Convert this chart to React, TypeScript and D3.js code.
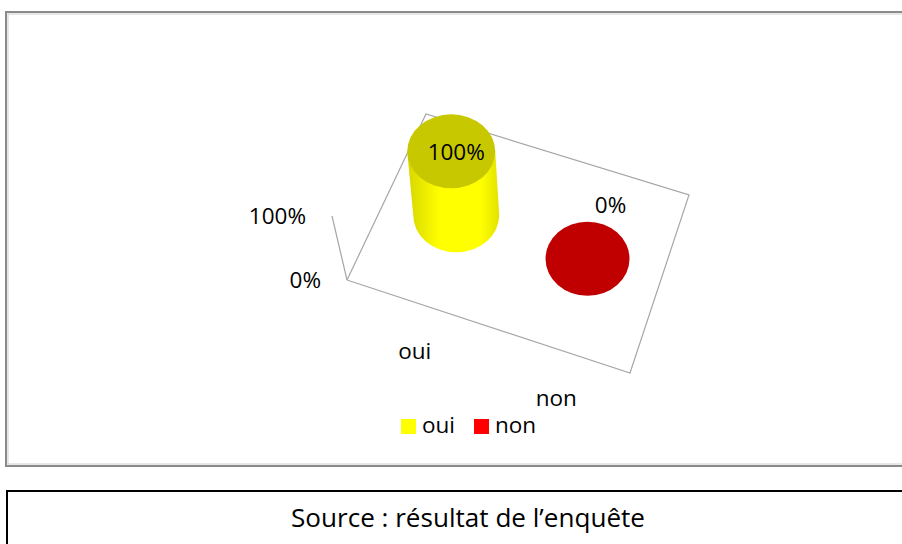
import React from "react";
import * as d3 from "d3";

const categories = ["oui", "non"];
const values = [100, 0];
const sideColors = ["#ffff00", "#ff0000"];
const topColors = ["#c8c800", "#c00000"];
const yTicks = [0, 100];
const sourceText = "Source : résultat de l’enquête";

const W = 902;
const H = 544;
const FONT = "'Open Sans', 'Noto Sans', sans-serif";
const LABEL_SIZE = 22.5;

// floor corners (perspective projection of the 3D plot floor)
const FL: [number, number] = [347, 280];
const FR: [number, number] = [630, 373];
const BL: [number, number] = [426, 114];
const BR: [number, number] = [689, 195];

function floorPoint(u: number, v: number): [number, number] {
  const x = (1 - u) * (1 - v) * FL[0] + u * (1 - v) * FR[0] + (1 - u) * v * BL[0] + u * v * BR[0];
  const y = (1 - u) * (1 - v) * FL[1] + u * (1 - v) * FR[1] + (1 - u) * v * BL[1] + u * v * BR[1];
  return [x, y];
}

export default function App() {
  const xBand = d3.scaleBand<string>().domain(categories).range([0, 1]).padding(0);
  const yScale = d3.scaleLinear().domain([0, 100]).range([0, 64]);
  const depth = 0.52;
  const rx = 43;
  const ry = 37;

  const wallTopOffset = -15;
  const floorPath = d3.line()([FL, BL, BR, FR, FL]);

  return (
    <svg
      width={W}
      height={H}
      style={{ position: "absolute", left: 0, top: 0, background: "#fff" }}
      fontFamily={FONT}
    >
      <defs>
        <linearGradient id="cylGrad0" x1="0" x2="1" y1="0" y2="0">
          <stop offset="0%" stopColor="#d6d600" />
          <stop offset="35%" stopColor="#ffff00" />
          <stop offset="80%" stopColor="#ffff00" />
          <stop offset="100%" stopColor="#e2e200" />
        </linearGradient>
        <linearGradient id="cylGrad1" x1="0" x2="1" y1="0" y2="0">
          <stop offset="0%" stopColor="#d60000" />
          <stop offset="35%" stopColor="#ff0000" />
          <stop offset="80%" stopColor="#ff0000" />
          <stop offset="100%" stopColor="#e20000" />
        </linearGradient>
      </defs>

      {/* chart border */}
      <rect x={6} y={12} width={W + 10} height={454} fill="none" stroke="#8a8a8a" strokeWidth={2} />
      <rect x={8} y={14} width={W + 10} height={450} fill="none" stroke="#d0d0d0" strokeWidth={1} />

      {/* floor */}
      <path d={floorPath || ""} fill="none" stroke="#a6a6a6" strokeWidth={1.2} />

      {/* wall edge / value axis */}
      <line
        x1={FL[0]}
        y1={FL[1]}
        x2={FL[0] + wallTopOffset}
        y2={FL[1] - yScale(100)}
        stroke="#a6a6a6"
        strokeWidth={1.2}
      />
      {yTicks.map((t) => {
        const frac = t / 100;
        const x = FL[0] + wallTopOffset * frac - 26;
        const y = FL[1] - yScale(t) + 2;
        return (
          <text key={t} x={x} y={y} textAnchor="end" dominantBaseline="middle" fontSize={LABEL_SIZE} fill="#000">
            {t + "%"}
          </text>
        );
      })}

      {/* cylinders */}
      {categories.map((c, i) => {
        const u = (xBand(c) || 0) + xBand.bandwidth() / 2;
        const [bx, by] = floorPoint(u, depth);
        const h = yScale(values[i]);
        const tx = bx - 5;
        const ty = by - h;
        const rxi = values[i] > 0 ? rx + 1 : rx - 1;
        const bodyD =
          `M${tx - rxi},${ty} L${bx - rxi + 1},${by} ` +
          `A${rxi - 1},${ry} 0 0 0 ${bx + rxi - 1},${by} ` +
          `L${tx + rxi},${ty} Z`;
        return (
          <g key={c}>
            {h > 0 && <path d={bodyD} fill={`url(#cylGrad${i})`} />}
            <ellipse cx={tx} cy={ty} rx={rxi} ry={ry} fill={topColors[i]} />
          </g>
        );
      })}

      {/* data labels */}
      {categories.map((c, i) => {
        const u = (xBand(c) || 0) + xBand.bandwidth() / 2;
        const [bx, by] = floorPoint(u, depth);
        const h = yScale(values[i]);
        const tx = bx - 5;
        const ty = by - h;
        const lx = values[i] > 0 ? tx + 5 : tx + 23;
        const ly = values[i] > 0 ? ty + 3 : ty - 52;
        return (
          <text key={c} x={lx} y={ly} textAnchor="middle" dominantBaseline="middle" fontSize={LABEL_SIZE} fill="#000">
            {values[i] + "%"}
          </text>
        );
      })}

      {/* category labels */}
      {categories.map((c) => {
        const u = (xBand(c) || 0) + xBand.bandwidth() / 2;
        const [fx, fy] = floorPoint(u, 0);
        return (
          <text key={c} x={fx - 3} y={fy + 50} textAnchor="middle" dominantBaseline="middle" fontSize={LABEL_SIZE} fill="#000">
            {c}
          </text>
        );
      })}

      {/* legend */}
      {categories.map((c, i) => {
        const lx = 401 + i * 73;
        return (
          <g key={c} transform={`translate(${lx},419)`}>
            <rect x={0} y={0} width={15} height={15} fill={sideColors[i]} />
            <text x={21} y={8} dominantBaseline="middle" fontSize={LABEL_SIZE} fill="#000">
              {c}
            </text>
          </g>
        );
      })}

      {/* source box */}
      <rect x={7} y={491} width={W + 10} height={H} fill="none" stroke="#000" strokeWidth={2} />
      <text
        x={468}
        y={520}
        textAnchor="middle"
        dominantBaseline="middle"
        fontSize={26}
        fill="#000"
        textLength={354}
        lengthAdjust="spacingAndGlyphs"
      >
        {sourceText}
      </text>
    </svg>
  );
}
